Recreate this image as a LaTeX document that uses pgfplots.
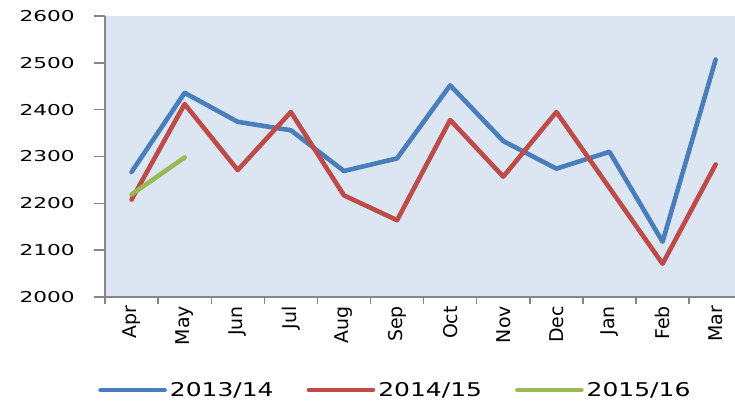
\documentclass[border=0pt]{standalone}
\usepackage{pgfplots}
\pgfplotsset{compat=1.18}
\usepackage{fontspec}
\setmainfont{DejaVu Sans}
\newfontfamily\ytfont{DejaVu Sans}[FakeStretch=1.45]
\newfontfamily\lgfont{DejaVu Sans}[FakeStretch=1.32]
\definecolor{sblue}{HTML}{4A7EBB}
\definecolor{sred}{HTML}{BE4B48}
\definecolor{sgreen}{HTML}{98B954}
\definecolor{bgc}{HTML}{DCE6F2}
\definecolor{axc}{HTML}{868686}
\begin{document}
\begin{tikzpicture}
\useasboundingbox (0,0) rectangle (735bp,402bp);
\begin{axis}[
  at={(105bp,105bp)}, anchor=south west,
  width=630bp, height=281bp, scale only axis,
  xmin=-0.5, xmax=11.364, ymin=2000, ymax=2600,
  axis background/.style={fill=bgc},
  axis x line*=bottom, axis y line*=left,
  axis line style={axc, line width=1.4bp},
  tick align=outside,
  major tick length=11bp, minor tick length=7bp,
  tick style={axc, line width=1.4bp},
  xtick={0,...,11},
  xticklabels={Apr,May,Jun,Jul,Aug,Sep,Oct,Nov,Dec,Jan,Feb,Mar},
  x tick style={draw=none},
  minor xtick={-0.5,0.5,...,10.5},
  minor x tick style={axc, line width=1.4bp, draw=axc},
  xticklabel style={yshift=2bp, rotate=90, anchor=east, inner sep=0pt, font=\fontsize{19}{19}\selectfont},
  ytick={2000,2100,...,2600},
  yticklabel style={anchor=east, inner sep=0pt, xshift=-19bp, font=\ytfont\fontsize{15}{15}\selectfont},
  /pgf/number format/assume math mode=true,
  /pgf/number format/set thousands separator={},
  legend columns=3,
  legend style={draw=none, fill=none, inner sep=0pt, at={(-0.011,-0.331)}, anchor=west,
    font=\lgfont\fontsize{19}{19}\selectfont,
    nodes={inner xsep=3bp, inner ysep=0pt},
    /tikz/every even column/.append style={column sep=30bp}},
  legend image code/.code={\draw[#1, line width=4.6bp] (0bp,0bp) -- (64bp,0bp);},
  every axis plot/.append style={line width=4.6bp, line join=round, line cap=round},
]
\addplot[sblue] coordinates {(0,2267) (1,2436) (2,2374) (3,2356) (4,2269) (5,2296) (6,2452) (7,2333) (8,2274) (9,2310) (10,2118) (11,2507)};
\addlegendentry{2013/14}
\addplot[sred] coordinates {(0,2208) (1,2412) (2,2271) (3,2395) (4,2217) (5,2164) (6,2378) (7,2257) (8,2395) (9,2233) (10,2071) (11,2283)};
\addlegendentry{2014/15}
\addplot[sgreen] coordinates {(0,2219) (1,2298)};
\addlegendentry{2015/16}
\end{axis}
\end{tikzpicture}
\end{document}
